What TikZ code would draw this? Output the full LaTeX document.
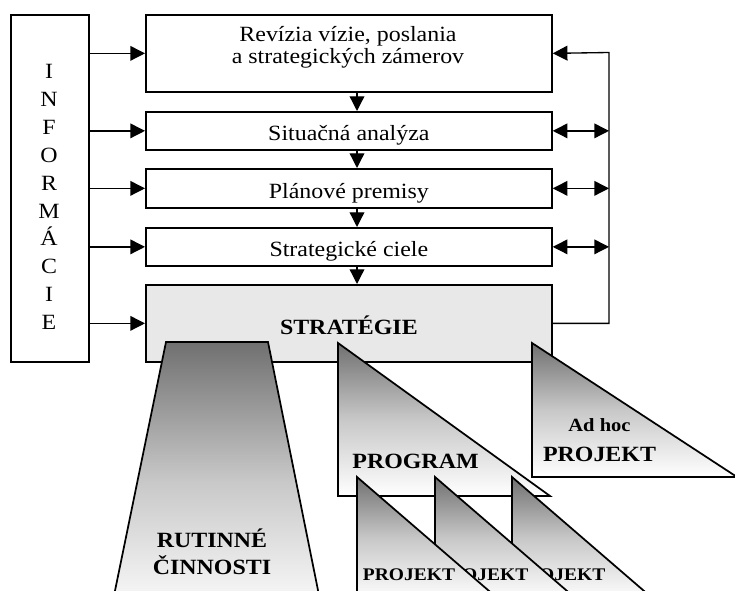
\documentclass[tikz,border=0pt]{standalone}
\usepackage{fontspec}
\setmainfont{Liberation Serif}[FakeStretch=1.1]
\usetikzlibrary{positioning,arrows.meta,calc}
\definecolor{stratfill}{HTML}{E8E8E8}
\definecolor{shadetop}{HTML}{707070}
\definecolor{shademid}{HTML}{C8C8C8}

\begin{document}
\begin{tikzpicture}[
    x=0.75pt, y=-0.75pt,
    box/.style={rectangle, draw, line width=1.3pt, anchor=north west,
                minimum width=304.5pt, inner sep=0pt, align=center,
                text height=15pt, text depth=0pt,
                font=\fontsize{16.3}{16.2}\selectfont},
    arrow/.style={-{Triangle[length=11pt, width=11pt]}, line width=1pt},
    both/.style={{Triangle[length=11pt, width=11pt]}-{Triangle[length=11pt, width=11pt]}, line width=1pt},
    piece/.style={draw, line width=1.3pt, top color=shadetop, bottom color=white, middle color=shademid},
    bold/.style={align=center, font=\fontsize{16.3}{20}\selectfont\bfseries},
    small/.style={font=\fontsize{13.3}{16}\selectfont\bfseries}
]
\useasboundingbox (0,0) rectangle (735,591);

% Left column
\node[rectangle, draw, line width=1.3pt, anchor=north west, inner sep=0pt,
      minimum width=58.5pt, minimum height=260.25pt] (info) at (10,14) {};
\node[align=center, font=\fontsize{16.3}{20.9}\selectfont] (infotxt) at (49,197)
    {I\\N\\F\\O\\R\\M\\Á\\C\\I\\E};

% Planning steps
\node[box, minimum height=57.75pt] (rev) at (145,14) {};
\node[align=center, font=\fontsize{16.3}{16.2}\selectfont] (revtxt) at (348,47)
    {Revízia vízie, poslania\\a strategických zámerov};
\node[box, minimum height=28.5pt] (sit) at (145,111) {Situačná analýza};
\node[box, minimum height=29.25pt] (plan) at (145,168) {Plánové premisy};
\node[box, minimum height=28.5pt] (ciele) at (145,227) {Strategické ciele};
\node[box, minimum height=57.75pt, fill=stratfill, text height=17.2pt,
      font=\fontsize{16.3}{16.2}\selectfont\bfseries] (strat) at (145,284) {STRATÉGIE};

% Arrows
\coordinate (dn) at (357,0);
\coordinate (fb) at (609,52.5);
\foreach \b in {rev, sit, plan, ciele, strat}
    \draw[arrow] (info.east |- \b.west) -- (\b.west);
\draw[arrow] (rev.south -| dn) -- (sit.north -| dn);
\draw[arrow] (sit.south -| dn) -- (plan.north -| dn);
\draw[arrow] (plan.south -| dn) -- (ciele.north -| dn);
\draw[arrow] (ciele.south -| dn) -- (strat.north -| dn);
\foreach \b in {sit, plan, ciele}
    \draw[both] (\b.east) -- (\b.east -| fb);
\draw[arrow] (strat.east) -| (fb) -- (rev.east);

\begin{scope}
\clip (0,0) rectangle (735,591);
% Routine work
\path[piece] (166,342) -- (268,342) -- (324,620) -- (109,620) -- cycle;
\node[bold] (rutin) at (212,552) {RUTINNÉ\\ČINNOSTI};
% Program
\path[piece] (338,343) -- (550,496) -- (338,496) -- cycle;
\node[bold, anchor=base] (program) at (415.5,468) {PROGRAM};
% Ad hoc project
\path[piece] (532,343) -- (737,477) -- (532,477) -- cycle;
\node[bold] (adhoc) at (599.5,440)
    {{\fontsize{14}{16}\selectfont Ad hoc}\\[2pt]PROJEKT};
% Projects of the program (front one drawn last)
\path[piece] (512,477) -- (654.5,600) -- (512,600) -- cycle;
\node[small, anchor=base east] (projc) at (610,580) {OJEKT};
\path[piece] (435,477) -- (577.5,600) -- (435,600) -- cycle;
\node[small, anchor=base east] (projb) at (533,580) {OJEKT};
\path[piece] (357,477) -- (499.5,600) -- (357,600) -- cycle;
\node[small, anchor=base] (proja) at (409,580) {PROJEKT};
\end{scope}

\end{tikzpicture}
\end{document}
